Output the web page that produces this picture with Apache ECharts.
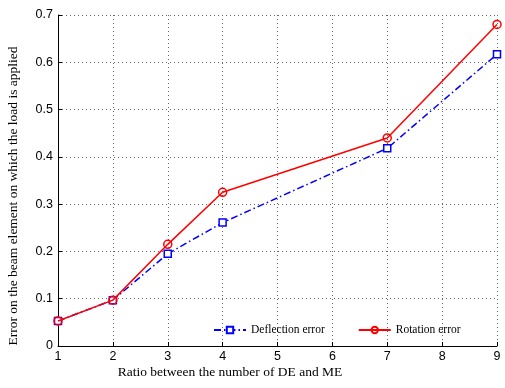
<!DOCTYPE html>
<html>
<head>
<meta charset="utf-8">
<script src="https://cdn.jsdelivr.net/npm/echarts@6/dist/echarts.min.js"></script>
<style>html,body{margin:0;padding:0;background:#fff}#c{width:505px;height:388px}</style>
</head>
<body>
<div id="c"></div>
<script>
const ratios = [1, 2, 3, 4, 7, 9];
const deflectionError = [0.053, 0.097, 0.195, 0.261, 0.418, 0.617];
const rotationError = [0.053, 0.097, 0.215, 0.325, 0.440, 0.680];
const xTicks = [1, 2, 3, 4, 5, 6, 7, 8, 9];
const yTicks = [0, 0.1, 0.2, 0.3, 0.4, 0.5, 0.6, 0.7];
const xTitle = 'Ratio between the number of DE and ME';
const yTitle = 'Error on the beam element on which the load is applied';

const chart = echarts.init(document.getElementById('c'), null, {renderer: 'canvas'});
const gridLine = {show: true, lineStyle: {color: '#666', type: [1, 3], width: 1}};
chart.setOption({
  animation: false,
  backgroundColor: '#fff',
  grid: {left: 58, right: 8, top: 15, bottom: 42, containLabel: false, outerBoundsMode: 'none'},
  xAxis: {
    type: 'value', min: 1, max: 9, interval: 1,
    axisLine: {show: true, onZero: false, lineStyle: {color: '#000', width: 1}},
    axisTick: {show: true, inside: true, length: 4, lineStyle: {color: '#000'}},
    axisLabel: {fontFamily: 'Liberation Sans', fontSize: 12.5, color: '#000', margin: 4,
      formatter: v => xTicks.includes(v) ? String(v) : ''},
    splitLine: gridLine
  },
  yAxis: {
    type: 'value', min: 0, max: 0.7, interval: 0.1,
    axisLine: {show: true, lineStyle: {color: '#000', width: 1}},
    axisTick: {show: true, inside: true, length: 4, lineStyle: {color: '#000'}},
    axisLabel: {fontFamily: 'Liberation Sans', fontSize: 12.5, color: '#000', margin: 5,
      formatter: v => { const t = yTicks.find(y => Math.abs(y - v) < 1e-9); return t === undefined ? '' : (t === 0 ? '0' : t.toFixed(1)); }},
    splitLine: gridLine
  },
  graphic: [
    {type: 'text', x: 230, y: 372, style: {text: xTitle, fontFamily: 'Liberation Serif', fontSize: 13.5, fill: '#000', align: 'center', verticalAlign: 'middle'}},
    {type: 'text', x: 13, y: 196, rotation: Math.PI / 2, style: {text: yTitle, fontFamily: 'Liberation Serif', fontSize: 13.5, fill: '#000', align: 'center', verticalAlign: 'middle'}}
  ],
  legend: {
    left: 208, top: 319, itemWidth: 32, itemHeight: 8, itemGap: 33,
    textStyle: {fontFamily: 'Liberation Serif', fontSize: 11.5, color: '#000'},
    data: ['Deflection error', 'Rotation error']
  },
  series: [
    {
      name: 'Deflection error', type: 'line',
      data: ratios.map((r, i) => [r, deflectionError[i]]),
      symbol: 'rect', symbolSize: 7, showAllSymbol: true,
      lineStyle: {color: '#0000ff', width: 1.5, type: [7, 3, 1.5, 3]},
      itemStyle: {color: '#fff', borderColor: '#0000ff', borderWidth: 1.5},
      z: 2
    },
    {
      name: 'Rotation error', type: 'line',
      data: ratios.map((r, i) => [r, rotationError[i]]),
      symbol: 'circle', symbolSize: 8, showAllSymbol: true,
      lineStyle: {color: '#ff0000', width: 1.5, type: 'solid'},
      itemStyle: {color: 'rgba(255,255,255,0)', borderColor: '#ff0000', borderWidth: 1.5},
      z: 3
    }
  ]
});
</script>
</body>
</html>
